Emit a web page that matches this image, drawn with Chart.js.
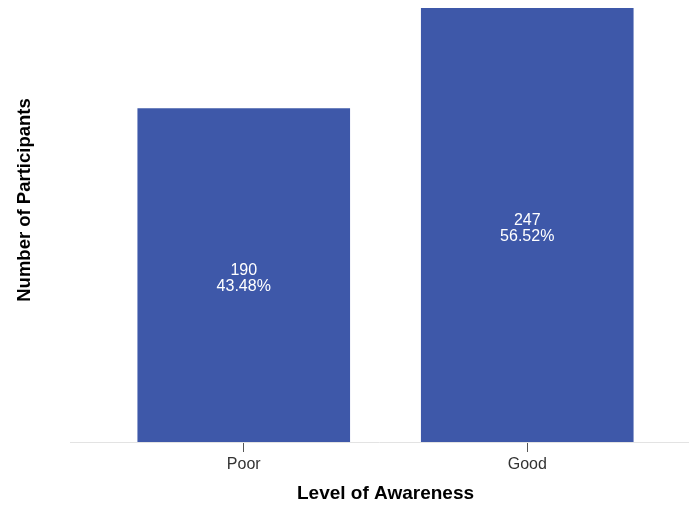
<!DOCTYPE html>
<html>
<head>
<meta charset="utf-8">
<script src="https://cdn.jsdelivr.net/npm/chart.js@4"></script>
<style>
  body { margin: 0; background: #fff; }
  #wrap { width: 689px; height: 505px; }
</style>
</head>
<body>
<div id="wrap"><canvas id="awarenessChart" width="689" height="505"></canvas></div>
<script>
// data kategori dan jumlah peserta
const categories = ['Poor', 'Good'];
const participants = [190, 247];
const xTitle = 'Level of Awareness';
const yTitle = 'Number of Participants';

const total = participants.reduce((a, b) => a + b, 0);
const percentLabels = participants.map(v => (v / total * 100).toFixed(2) + '%');

// plugin untuk garis sumbu, judul sumbu y, dan label di dalam batang
const extras = {
    id: 'extras',
    afterDraw(chart) {
        const ctx = chart.ctx;
        const area = chart.chartArea;
        ctx.save();
        // garis sumbu x
        ctx.strokeStyle = '#e3e3e3';
        ctx.lineWidth = 1;
        ctx.beginPath();
        ctx.moveTo(70, Math.round(area.bottom) + 0.5);
        ctx.lineTo(689, Math.round(area.bottom) + 0.5);
        ctx.stroke();

        // judul sumbu y
        ctx.translate(25, 200);
        ctx.rotate(-Math.PI / 2);
        ctx.fillStyle = '#000';
        ctx.font = 'bold 18.5px "Liberation Sans", Arial, sans-serif';
        ctx.textAlign = 'center';
        ctx.textBaseline = 'middle';
        ctx.fillText(yTitle, 0, 0);
        ctx.restore();

        // label nilai dan persen
        ctx.save();
        ctx.fillStyle = '#fff';
        ctx.font = '16px "Liberation Sans", Arial, sans-serif';
        ctx.textAlign = 'center';
        ctx.textBaseline = 'middle';
        const meta = chart.getDatasetMeta(0);
        meta.data.forEach((bar, i) => {
            const mid = (bar.y + bar.base) / 2;
            ctx.fillText(String(participants[i]), bar.x, mid - 4);
            ctx.fillText(percentLabels[i], bar.x, mid + 12);
        });
        ctx.restore();
    }
};

new Chart(document.getElementById('awarenessChart'), {
    type: 'bar',
    data: {
        labels: categories,
        datasets: [{
            data: participants,
            backgroundColor: '#3e58a9',
            borderWidth: 0,
            barPercentage: 0.75,
            categoryPercentage: 1.0
        }]
    },
    options: {
        responsive: false,
        animation: false,
        layout: { padding: { top: 8, right: 20, left: 0, bottom: 0 } },
        plugins: {
            legend: { display: false },
            tooltip: { enabled: false }
        },
        scales: {
            x: {
                offset: true,
                afterFit(scale) { scale.height = 63; },
                grid: {
                    display: true,
                    offset: false,
                    drawOnChartArea: false,
                    drawTicks: true,
                    tickLength: 10,
                    color: '#555'
                },
                border: { display: false },
                ticks: {
                    color: '#333',
                    padding: 3,
                    font: { size: 16, family: '"Liberation Sans", Arial, sans-serif' }
                },
                title: {
                    display: true,
                    text: xTitle,
                    color: '#000',
                    padding: { top: 8, bottom: 0 },
                    font: { size: 19, weight: 'bold', family: '"Liberation Sans", Arial, sans-serif' }
                }
            },
            y: {
                min: 0,
                max: 247,
                afterFit(scale) { scale.width = 102; },
                grid: { display: false },
                border: { display: false },
                ticks: { display: false }
            }
        }
    },
    plugins: [extras]
});
</script>
</body>
</html>
